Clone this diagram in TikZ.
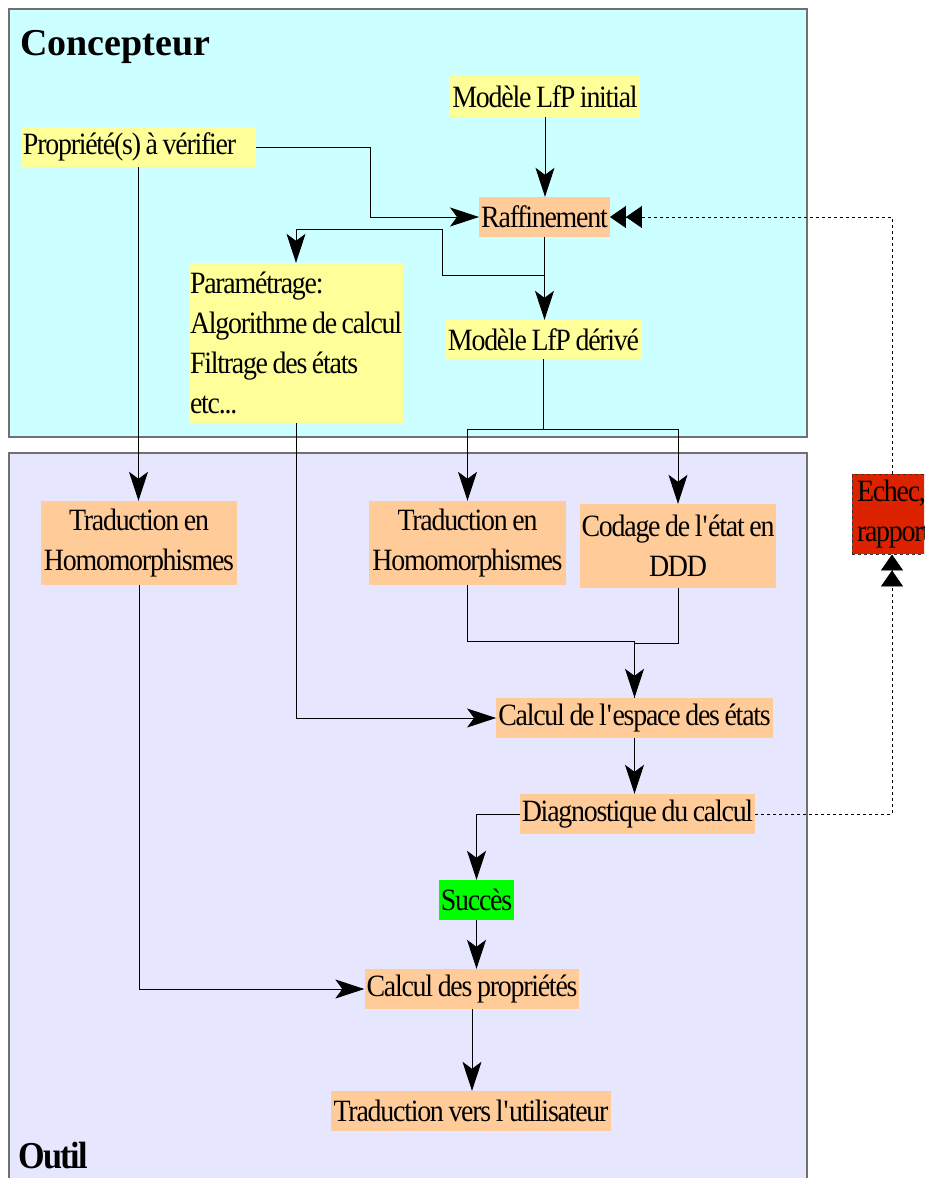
\documentclass[tikz,border=0pt]{standalone}
\usepackage{fontspec}
\setmainfont{Liberation Serif}[FakeStretch=0.9, LetterSpace=-4, WordSpace=0.8]
\newfontfamily\widefont{Liberation Serif}
\usetikzlibrary{arrows.meta}
\definecolor{conccol}{HTML}{CCFFFF}
\definecolor{outilcol}{HTML}{E6E6FF}
\definecolor{yellowbox}{HTML}{FFFF99}
\definecolor{orangebox}{HTML}{FFCC99}
\definecolor{greenbox}{HTML}{00FF00}
\definecolor{redbox}{HTML}{DD2200}
\definecolor{framegray}{HTML}{707070}
\hyphenpenalty=10000
\exhyphenpenalty=10000
\hfuzz=20pt
\newcommand{\apos}{\textquotesingle}
\tikzset{
  region/.style={draw=framegray, line width=1.2pt},
  title/.style={anchor=base west, inner sep=0pt, font=\bfseries\fontsize{38}{44}\selectfont},
  boxbase/.style={inner xsep=2pt, inner ysep=0pt, font=\fontsize{31}{40}\selectfont},
  ybox/.style={boxbase, fill=yellowbox},
  obox/.style={boxbase, fill=orangebox},
  flow/.style={draw=black, line width=0.9pt,
    -{Stealth[length=29pt, width=19pt, inset=7pt]}},
  plain/.style={draw=black, line width=0.9pt},
  retour/.style={draw=black, line width=0.8pt, dash pattern=on 3pt off 3pt,
    -{Triangle[length=16pt, width=22pt] Triangle[length=16pt, width=22pt]}}
}
\begin{document}
\begin{tikzpicture}[x=1pt, y=-1pt]
\useasboundingbox (0,0) rectangle (924,1178);
\clip (0,0) rectangle (924,1178);

% the two swimlanes
\path[region, fill=conccol] (9,9) rectangle (807,437);
\path[region, fill=outilcol] (9,453) rectangle (807,1200);
\node[title, font=\widefont\bfseries\fontsize{38}{44}\selectfont] (tconc) at (20,55) {Concepteur};
\node[title] (toutil) at (18,1168) {Outil};

% designer side
\node[ybox, minimum width=188pt, minimum height=41pt] (init) at (545,96.5) {Modèle LfP initial};
\node[ybox, minimum width=235pt, minimum height=40pt, text width=231pt, align=flush left] (prop) at (138.5,147) {Propriété(s) à vérifier};
\node[obox, minimum width=127pt, minimum height=40pt] (raff) at (544.5,217) {Raffinement};
\node[ybox, inner xsep=1pt, minimum width=214pt, minimum height=160pt, text width=212pt, align=flush left] (param) at (296,343)
  {Paramétrage:\\\mbox{Algorithme de calcul}\\Filtrage des états\\etc...};
\node[ybox, minimum width=191pt, minimum height=39pt] (deriv) at (543.5,339.5) {Modèle LfP dérivé};

% tool side
\node[obox, minimum width=196pt, minimum height=84pt, align=center] (tradL) at (139,543) {Traduction en\\Homomorphismes};
\node[obox, minimum width=197pt, minimum height=84pt, align=center] (tradM) at (467.5,543) {Traduction en\\Homomorphismes};
\node[obox, minimum width=196pt, minimum height=84pt, align=center] (codage) at (678,546) {Codage de l\apos état en\\DDD};
\node[obox, minimum width=275pt, minimum height=40pt] (espace) at (634.5,718) {Calcul de l\apos espace des états};
\node[obox, minimum width=235pt, minimum height=40pt] (diag) at (637.5,814) {Diagnostique du calcul};
\node[boxbase, fill=greenbox, minimum width=71pt, minimum height=40pt] (succes) at (476.5,900) {Succès};
\node[obox, minimum width=214pt, minimum height=40pt] (props) at (472,989) {Calcul des propriétés};
\node[obox, minimum width=280pt, minimum height=40pt] (tradU) at (471,1111) {Traduction vers l\apos utilisateur};
\node[boxbase, inner xsep=5pt, fill=redbox, draw=black!80, dash pattern=on 3pt off 3pt, line width=0.8pt,
  minimum width=80pt, minimum height=80pt, text width=70pt, align=flush left] (echec) at (892,514) {Echec,\\rapport};

% bend points
\coordinate (b1) at (370,217);
\coordinate (c1) at (442,275);
\coordinate (c2) at (296,229);

% connectors
\draw[flow] (init.south) -- (init.south |- raff.north);
\draw[flow] (prop.east) -| (b1) -- (raff.west);
\draw[flow] (prop.south) -- (prop.south |- tradL.north);
\draw[flow] (raff.south) |- (c1) |- (c2) -- (param.north);
\draw[flow] (raff.south) -- (raff.south |- deriv.north);
\draw[flow] (deriv.south) -- ++(0,70) -| (tradM.north);
\draw[flow] (deriv.south) -- ++(0,70) -| (codage.north);
\draw[flow] (param.south) |- (espace.west);
\draw[plain] (tradM.south) -- ++(0,56) -| (espace.north);
\draw[flow] (codage.south) -- ++(0,55) -| (espace.north);
\draw[flow] (espace.south) -- (espace.south |- diag.north);
\draw[flow] (diag.west) -| (succes.north);
\draw[flow] (tradL.south) |- (props.west);
\draw[flow] (succes.south) -- (succes.south |- props.north);
\draw[flow] (props.south) -- (props.south |- tradU.north);

% failure loop back to refinement
\draw[retour] (diag.east) -| (echec.south);
\draw[retour] (echec.north) |- (raff.east);
\end{tikzpicture}
\end{document}
